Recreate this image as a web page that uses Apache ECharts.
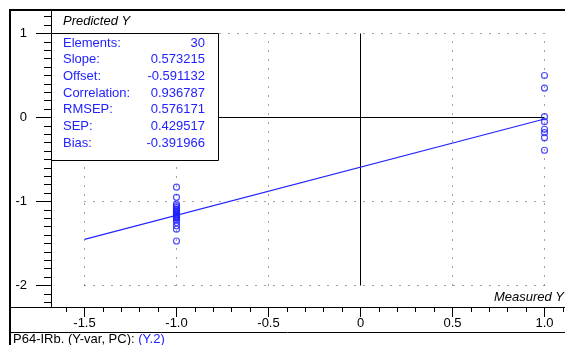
<!DOCTYPE html>
<html>
<head>
<meta charset="utf-8">
<script src="https://cdn.jsdelivr.net/npm/echarts@6/dist/echarts.min.js"></script>
<style>
  html, body { margin: 0; padding: 0; background: #fff; }
  #chart { width: 565px; height: 345px; }
</style>
</head>
<body>
<div id="chart"></div>
<script>
// ---- data -------------------------------------------------------------
const xTicks = [-1.5, -1.0, -0.5, 0, 0.5, 1.0];
const yTicks = [-2, -1, 0, 1];

const measuredLow = -1;
const measuredHigh = 1;
const predictedAtLow = [-0.83, -0.95, -1.03, -1.05, -1.07, -1.09, -1.10, -1.11,
  -1.12, -1.13, -1.14, -1.15, -1.16, -1.17, -1.18, -1.19, -1.20, -1.22,
  -1.25, -1.29, -1.33, -1.47];
const predictedAtHigh = [0.50, 0.35, 0.01, -0.05, -0.14, -0.18, -0.24, -0.39];

const statLabels = ['Elements:', 'Slope:', 'Offset:', 'Correlation:', 'RMSEP:', 'SEP:', 'Bias:'];
const statValues = ['30', '0.573215', '-0.591132', '0.936787', '0.576171', '0.429517', '-0.391966'];

const yAxisTitle = 'Predicted Y';
const xAxisTitle = 'Measured Y';
const footerText = 'P64-IRb. (Y-var, PC): ';
const footerTag = '(Y.2)';

// ---- layout -----------------------------------------------------------
const W = 565, H = 345;
const PLOT_LEFT = 51, PLOT_TOP = 10, PLOT_BOTTOM = 307, PLOT_RIGHT = 565;
const X_PX = 184, X_ZERO_PX = 360.5;   // pixels per unit, pixel of x = 0
const Y_PX = 84, Y_ZERO_PX = 117.5;
const X_MIN = (PLOT_LEFT - X_ZERO_PX) / X_PX;
const X_MAX = (PLOT_RIGHT - X_ZERO_PX) / X_PX;
const Y_MAX = (Y_ZERO_PX - PLOT_TOP) / Y_PX;
const Y_MIN = (Y_ZERO_PX - PLOT_BOTTOM) / Y_PX;

const BLUE = '#2222ff';
const INK = '#000';
const FONT = '"Liberation Sans", Arial, sans-serif';

function minorSteps(lo, hi, majors) {
  const out = [];
  for (let i = Math.ceil(lo * 10); i <= Math.floor(hi * 10); i++) {
    const v = Math.round(i) / 10;
    if (!majors.some(m => Math.abs(m - v) < 1e-9)) out.push(v);
  }
  return out;
}

const slope = parseFloat(statValues[1]);
const offset = parseFloat(statValues[2]);

const xLo = xTicks[0], xHi = xTicks[xTicks.length - 1];
const yLo = yTicks[0], yHi = yTicks[yTicks.length - 1];

function seg(points, style, z) {
  return { type: 'line', data: points, symbol: 'none', silent: true,
           animation: false, lineStyle: style, z: z };
}

const dotted = { color: '#444', width: 1, type: [1, 8] };
const solid = { color: INK, width: 1, type: 'solid' };

const series = [];
xTicks.filter(v => v !== 0).forEach(v => series.push(seg([[v, yLo], [v, yHi]], dotted, 1)));
yTicks.filter(v => v !== 0).forEach(v => series.push(seg([[xLo, v], [xHi, v]], dotted, 1)));
series.push(seg([[0, yLo], [0, yHi]], solid, 2));
series.push(seg([[xLo, 0], [xHi, 0]], solid, 2));
series.push(seg([[xLo, offset + slope * xLo], [xHi, offset + slope * xHi]],
  { color: BLUE, width: 1.1 }, 3));
series.push({
  type: 'scatter',
  animation: false,
  symbol: 'circle',
  symbolSize: 6,
  z: 4,
  itemStyle: { color: 'rgba(0,0,0,0)', borderColor: BLUE, borderWidth: 1.2 },
  data: predictedAtLow.map(v => [measuredLow, v])
    .concat(predictedAtHigh.map(v => [measuredHigh, v]))
});

const axisFont = { color: INK, fontSize: 13, fontFamily: FONT };

function valueAxis(min, max, extra) {
  return Object.assign({ type: 'value', min: min, max: max, splitLine: { show: false } }, extra);
}

// ---- stats box & frame ------------------------------------------------
const BOX = { x: 51, y: 33, w: 167, h: 127 };
const statRows = [];
statLabels.forEach((lab, i) => {
  const cy = 43 + i * 16.67;
  statRows.push({ type: 'text', z: 101, style: { text: lab, x: 63, y: cy, fill: BLUE,
    font: '13px ' + FONT, align: 'left', verticalAlign: 'middle' } });
  statRows.push({ type: 'text', z: 101, style: { text: statValues[i], x: 205, y: cy, fill: BLUE,
    font: '13px ' + FONT, align: 'right', verticalAlign: 'middle' } });
});

function hline(x1, x2, y, w) {
  return { type: 'line', shape: { x1: x1, y1: y, x2: x2, y2: y },
           style: { stroke: INK, lineWidth: w || 1 }, z: 100 };
}
function vline(x, y1, y2, w) {
  return { type: 'line', shape: { x1: x, y1: y1, x2: x, y2: y2 },
           style: { stroke: INK, lineWidth: w || 1 }, z: 100 };
}

const option = {
  animation: false,
  backgroundColor: '#fff',
  grid: { left: PLOT_LEFT, top: PLOT_TOP, right: W - PLOT_RIGHT, bottom: H - PLOT_BOTTOM,
          show: false },
  xAxis: [
    valueAxis(X_MIN, X_MAX, {
      position: 'bottom',
      axisLine: { show: true, onZero: false, lineStyle: { color: INK, width: 1 } },
      axisTick: { show: true, length: 10, customValues: xTicks, lineStyle: { color: INK } },
      axisLabel: Object.assign({ margin: 10, customValues: xTicks,
        formatter: v => (v === 0 ? '0' : v.toFixed(1)) }, axisFont)
    }),
    valueAxis(X_MIN, X_MAX, {
      position: 'bottom',
      axisLine: { show: false, onZero: false },
      axisTick: { show: true, length: 5, customValues: minorSteps(X_MIN, X_MAX, xTicks),
                  lineStyle: { color: INK } },
      axisLabel: { show: false }
    })
  ],
  yAxis: [
    valueAxis(Y_MIN, Y_MAX, {
      position: 'left',
      axisLine: { show: true, onZero: false, lineStyle: { color: INK, width: 1 } },
      axisTick: { show: true, length: 15, customValues: yTicks, lineStyle: { color: INK } },
      axisLabel: Object.assign({ margin: 24, customValues: yTicks,
        formatter: v => String(v) }, axisFont)
    }),
    valueAxis(Y_MIN, Y_MAX, {
      position: 'left',
      axisLine: { show: false, onZero: false },
      axisTick: { show: true, length: 7, customValues: minorSteps(Y_MIN, Y_MAX, yTicks),
                  lineStyle: { color: INK } },
      axisLabel: { show: false }
    })
  ],
  series: series,
  graphic: [
    // outer frame and axis band
    hline(9, W, 10, 2),
    vline(10, 9, H, 2),
    hline(10, PLOT_LEFT, PLOT_BOTTOM + 0.5, 1),
    hline(10, W, 332.5, 1),
    // axis titles
    { type: 'text', z: 100, style: { text: yAxisTitle, x: 63, y: 21, fill: INK,
      font: 'italic 13px ' + FONT, align: 'left', verticalAlign: 'middle' } },
    { type: 'text', z: 100, style: { text: xAxisTitle, x: 564, y: 297, fill: INK,
      font: 'italic 13px ' + FONT, align: 'right', verticalAlign: 'middle' } },
    // statistics box
    { type: 'rect', z: 100, shape: { x: BOX.x + 0.5, y: BOX.y + 0.5, width: BOX.w, height: BOX.h },
      style: { fill: '#fff', stroke: INK, lineWidth: 1 } }
  ].concat(statRows).concat([
    // footer
    { type: 'text', z: 100, style: {
      text: '{a|' + footerText + '}{b|' + footerTag + '}', x: 13, y: 339,
      verticalAlign: 'middle', align: 'left',
      rich: {
        a: { fill: INK, font: '13px ' + FONT },
        b: { fill: BLUE, font: '13px ' + FONT }
      } } }
  ])
};

const chart = echarts.init(document.getElementById('chart'), null, { renderer: 'canvas' });
chart.setOption(option);
</script>
</body>
</html>
